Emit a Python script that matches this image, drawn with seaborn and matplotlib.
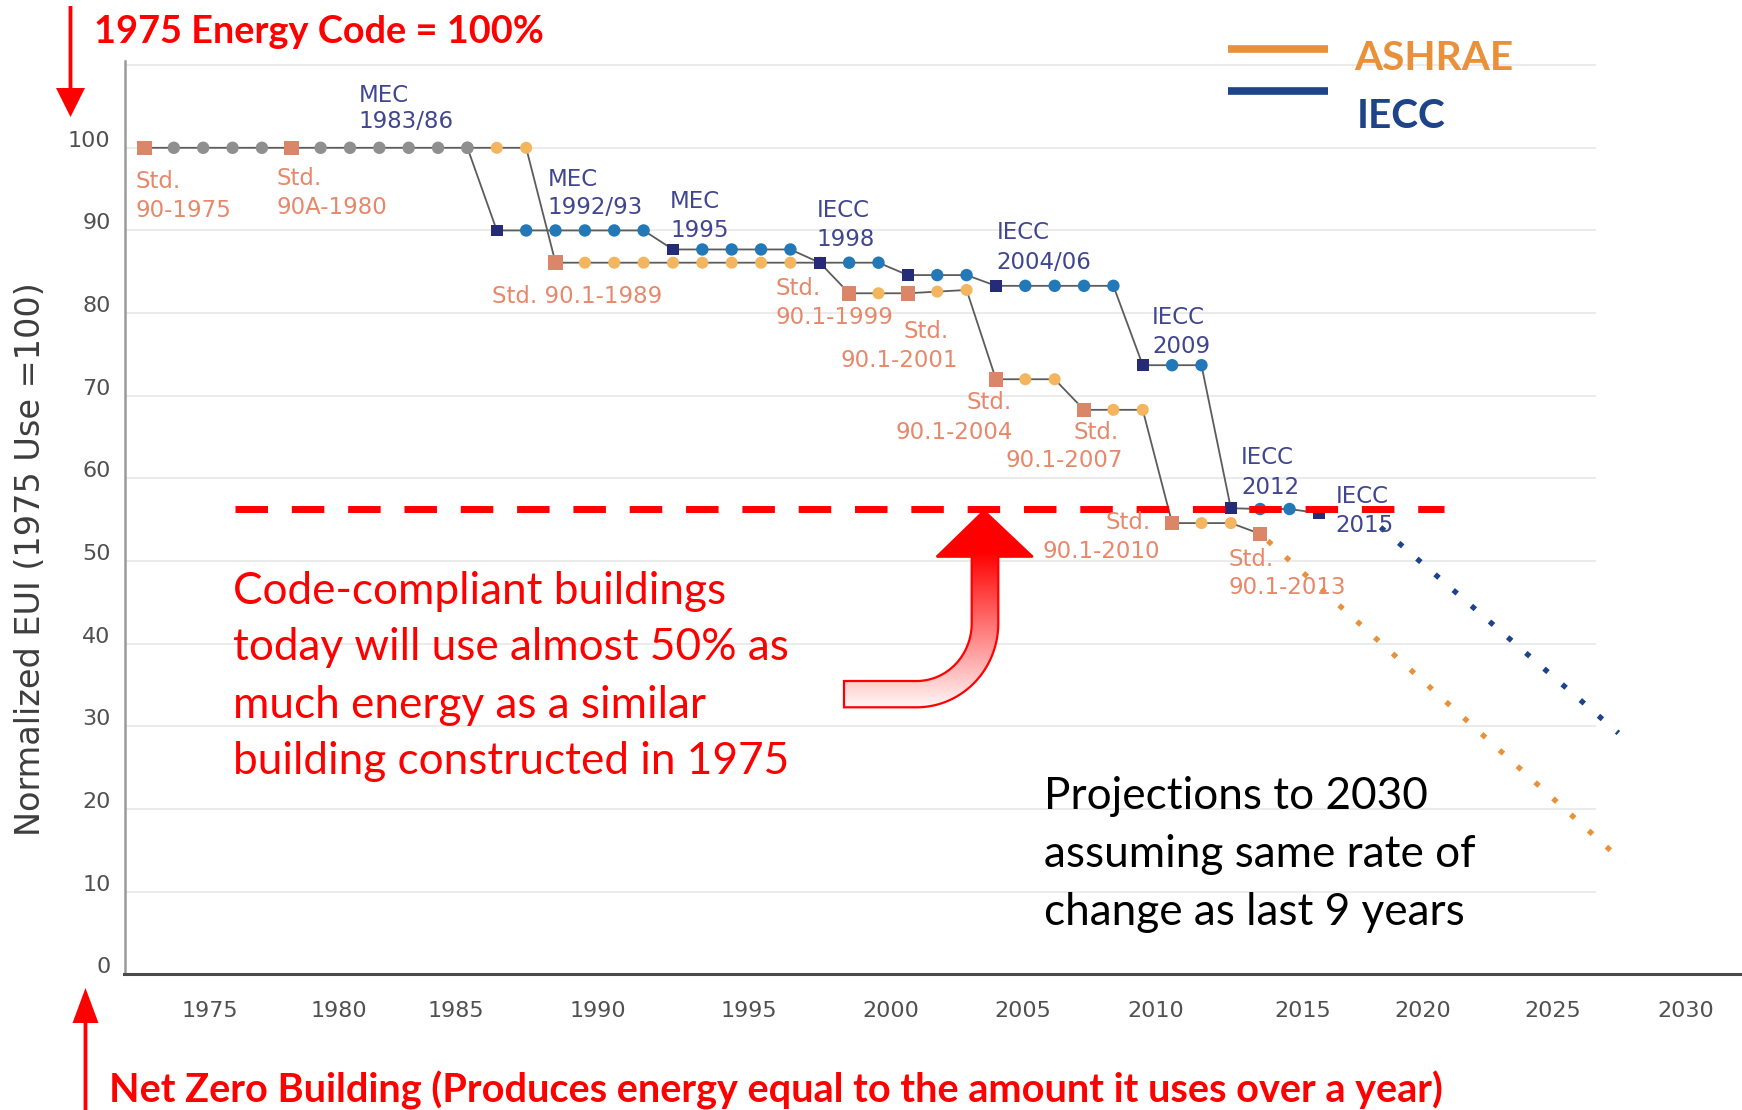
import matplotlib
matplotlib.use("Agg")
import matplotlib.pyplot as plt
import numpy as np
import pandas as pd
import seaborn as sns
from matplotlib.patches import FancyArrow, PathPatch
from matplotlib.path import Path
from matplotlib.transforms import ScaledTranslation

W, H, DPI = 1742, 1110, 100

# values (normalized EUI, 1975 = 100)
ASHRAE_YEARS = list(range(1975, 2014))
ASHRAE_EUI = [
    100, 100, 100, 100, 100, 100, 100, 100, 100, 100, 100, 100, 100, 100,  # 1975-1988
    86.1, 86.1, 86.1, 86.1, 86.1, 86.1, 86.1, 86.1, 86.1, 86.1,  # 1989-1998
    82.4, 82.4, 82.4, 82.6, 82.8,  # 1999-2003
    72.0, 72.0, 72.0,  # 2004-2006
    68.3, 68.3, 68.3,  # 2007-2009
    54.6, 54.6, 54.6,  # 2010-2012
    53.3,  # 2013
]
ASHRAE_STD_YEARS = [1975, 1980, 1989, 1999, 2001, 2004, 2007, 2010, 2013]

IECC_YEARS = list(range(1986, 2016))
IECC_EUI = [
    100,  # 1986, shared with ASHRAE
    90.0, 90.0, 90.0, 90.0, 90.0, 90.0,  # 1987-1992
    87.7, 87.7, 87.7, 87.7, 87.7,  # 1993-1997
    86.1, 86.1, 86.1,  # 1998-2000
    84.6, 84.6, 84.6,  # 2001-2003
    83.3, 83.3, 83.3, 83.3, 83.3,  # 2004-2008
    73.7, 73.7, 73.7,  # 2009-2011
    56.4, 56.3, 56.3,  # 2012-2014
    55.8,  # 2015
]
IECC_CODE_YEARS = [1987, 1993, 1998, 2001, 2004, 2009, 2012, 2015]
SHARED_LAST_YEAR = 1986

ASHRAE_PROJ_YEARS = [2013.26, 2025.4]
ASHRAE_PROJ_EUI = [52.45, 13.5]
IECC_PROJ_YEARS = [2017.1, 2025.2]
IECC_PROJ_EUI = [54.1, 29.2]

TARGET_EUI = 56.3
TARGET_YEARS = [1978.1, 2019.25]

Y_TICKS = [0, 10, 20, 30, 40, 50, 60, 70, 80, 90, 100]
GRID_VALUES = [10, 20, 30, 40, 50, 60, 70, 80, 90, 100, 110]
GRID_END = 2024.45
X_TICK_POS = [1977.23, 1981.62, 1985.59, 1990.44, 1995.58, 2000.43,
              2004.93, 2009.43, 2014.46, 2018.55, 2022.98, 2027.48]
X_TICK_LABELS = ["1975", "1980", "1985", "1990", "1995", "2000",
                 "2005", "2010", "2015", "2020", "2025", "2030"]

# label lines: text, left x, centre y (pixels), series
CHART_LABELS = [
    ("Std.", 135.5, 180.0, "ashrae"), ("90-1975", 135.5, 209.0, "ashrae"),
    ("Std.", 276.6, 176.6, "ashrae"), ("90A-1980", 276.6, 205.5, "ashrae"),
    ("MEC", 358.9, 93.3, "iecc"), ("1983/86", 358.9, 120.0, "iecc"),
    ("MEC", 547.7, 177.8, "iecc"), ("1992/93", 547.7, 205.5, "iecc"),
    ("MEC", 670.0, 200.0, "iecc"), ("1995", 670.0, 228.9, "iecc"),
    ("IECC", 816.6, 208.9, "iecc"), ("1998", 816.6, 237.8, "iecc"),
    ("IECC", 996.6, 231.0, "iecc"), ("2004/06", 996.6, 261.0, "iecc"),
    ("Std. 90.1-1989", 492.2, 294.4, "ashrae"),
    ("Std.", 775.5, 286.6, "ashrae"), ("90.1-1999", 775.5, 315.5, "ashrae"),
    ("Std.", 903.0, 330.0, "ashrae"), ("90.1-2001", 840.0, 358.9, "ashrae"),
    ("Std.", 966.0, 401.0, "ashrae"), ("90.1-2004", 895.0, 430.5, "ashrae"),
    ("Std.", 1073.0, 431.0, "ashrae"), ("90.1-2007", 1005.5, 459.0, "ashrae"),
    ("IECC", 1152.1, 315.5, "iecc"), ("2009", 1152.1, 344.4, "iecc"),
    ("IECC", 1241.0, 455.5, "iecc"), ("2012", 1241.0, 485.5, "iecc"),
    ("IECC", 1335.4, 494.4, "iecc"), ("2015", 1335.4, 523.3, "iecc"),
    ("Std.", 1105.5, 521.0, "ashrae"), ("90.1-2010", 1042.1, 550.0, "ashrae"),
    ("Std.", 1228.8, 557.7, "ashrae"), ("90.1-2013", 1228.8, 585.5, "ashrae"),
]

RED_NOTE = ["Code-compliant buildings", "today will use almost 50% as",
            "much energy as a similar", "building constructed in 1975"]
BLACK_NOTE = ["Projections to 2030", "assuming same rate of",
              "change as last 9 years"]

LINE = "#5c5c5c"
ORANGE = "#E8913A"
NAVY = "#1D4388"
RED = "#FF0000"
LABEL_COLORS = {"ashrae": "#E8886A", "iecc": "#40468F"}
MARKER_COLORS = {"shared": "#8f8f8f", "ashrae_std": "#DB8569", "ashrae": "#F3B55E",
                 "iecc_code": "#262B78", "iecc": "#2379B8"}
MARKER_SHAPES = {"shared": "o", "ashrae_std": "s", "ashrae": "o",
                 "iecc_code": "s", "iecc": "o"}
MARKER_SIZES = {"shared": 80, "ashrae_std": 110, "ashrae": 75,
                "iecc_code": 70, "iecc": 80}


def ashrae_kind(year):
    if year in ASHRAE_STD_YEARS:
        return "ashrae_std"
    return "shared" if year <= SHARED_LAST_YEAR else "ashrae"


def iecc_kind(year):
    if year <= SHARED_LAST_YEAR:
        return "shared"
    return "iecc_code" if year in IECC_CODE_YEARS else "iecc"


def fit_width(fig, texts, width):
    fig.canvas.draw()
    r = fig.canvas.get_renderer()
    cur = max(t.get_window_extent(r).width for t in texts)
    for t in texts:
        t.set_fontsize(t.get_fontsize() * width / cur)


sns.set_style("white")
plt.rcParams["font.family"] = ["DejaVu Sans"]

fig = plt.figure(figsize=(W / DPI, H / DPI), dpi=DPI)
ax_left, ax_bottom, ax_top = 124.5, 974.4, 61.0
ax = fig.add_axes([ax_left / W, 1 - ax_bottom / H, (W - ax_left) / W, (ax_bottom - ax_top) / H])

ax.hlines(GRID_VALUES, 1974.0, GRID_END, color="#e8e8e8", lw=1.2, zorder=0)

sns.lineplot(x=ASHRAE_YEARS, y=ASHRAE_EUI, ax=ax, color=LINE, lw=1.3, estimator=None, zorder=2)
sns.lineplot(x=IECC_YEARS, y=IECC_EUI, ax=ax, color=LINE, lw=1.3, estimator=None, zorder=2)

points = pd.concat([
    pd.DataFrame({"year": ASHRAE_YEARS, "eui": ASHRAE_EUI,
                  "kind": [ashrae_kind(y) for y in ASHRAE_YEARS]}),
    pd.DataFrame({"year": IECC_YEARS, "eui": IECC_EUI,
                  "kind": [iecc_kind(y) for y in IECC_YEARS]}),
], ignore_index=True)
sns.scatterplot(data=points, x="year", y="eui", hue="kind", style="kind", size="kind",
                palette=MARKER_COLORS, markers=MARKER_SHAPES, sizes=MARKER_SIZES,
                linewidth=0, legend=False, ax=ax, zorder=3)

ax.plot(ASHRAE_PROJ_YEARS, ASHRAE_PROJ_EUI, color=ORANGE, lw=3.8,
        linestyle=(0, (1, 3.55)), dash_capstyle="butt", zorder=2.5)
ax.plot(IECC_PROJ_YEARS, IECC_PROJ_EUI, color=NAVY, lw=3.8,
        linestyle=(0, (1, 3.55)), dash_capstyle="butt", zorder=2.5)

ax.plot(TARGET_YEARS, [TARGET_EUI, TARGET_EUI], color=RED, lw=5,
        linestyle=(0, (4.68, 3.43)), dash_capstyle="butt", zorder=4)

ax.set_xlim(1974.32, 2029.41)
ax.set_ylim(0, 110.5)
ax.set_yticks(Y_TICKS)
ax.set_xticks(X_TICK_POS)
ax.set_xticklabels(X_TICK_LABELS)
ax.set_xlabel("")
ax.set_ylabel("")
ax.tick_params(axis="both", length=0, labelsize=16, labelcolor="#505050")
ax.tick_params(axis="x", pad=19)
ax.tick_params(axis="y", pad=10)
for side in ["top", "right"]:
    ax.spines[side].set_visible(False)
ax.spines["left"].set_color("#9a9a9a")
ax.spines["left"].set_linewidth(1.8)
ax.spines["bottom"].set_color("#4a4a4a")
ax.spines["bottom"].set_linewidth(2.2)

# overlay in pixel coordinates for the annotations
ov = fig.add_axes([0, 0, 1, 1])
ov.set_xlim(0, W)
ov.set_ylim(H, 0)
ov.axis("off")
ov.set_zorder(5)

label_fs = 16.5
for text, x, y, series in CHART_LABELS:
    ov.text(x, y + 0.36 * label_fs * DPI / 72, text, color=LABEL_COLORS[series],
            fontsize=label_fs, ha="left", va="baseline")

ylab = ov.text(31, 559, "Normalized EUI (1975 Use =100)", rotation=90, ha="center",
               va="center", fontsize=22, color="#3d3d3d")

big = ["Lato", "DejaVu Sans"]
title = ov.text(94, 43.3, "1975 Energy Code = 100%", color=RED, fontsize=24,
                fontweight="bold", family=big, ha="left", va="baseline")
bottom = ov.text(109, 1102, "Net Zero Building (Produces energy equal to the amount it uses over a year)",
                 color=RED, fontsize=24, fontweight="bold", family=big, ha="left", va="baseline")
red_lines = [ov.text(232.5, 603.5 + 57 * i, line, color=RED, fontsize=28, family=big,
                     ha="left", va="baseline") for i, line in enumerate(RED_NOTE)]
black_lines = [ov.text(1044.3, 809 + 57.8 * i, line, color="black", fontsize=28, family=big,
                       ha="left", va="baseline") for i, line in enumerate(BLACK_NOTE)]
leg_a = ov.text(1354, 70, "ASHRAE", color=ORANGE, fontsize=28, fontweight="bold",
                family=big, ha="left", va="baseline")
leg_i = ov.text(1357, 128.3, "IECC", color=NAVY, fontsize=28, fontweight="bold",
                family=big, ha="left", va="baseline")

fit_width(fig, [title], 450)
fit_width(fig, [bottom], 1335)
fit_width(fig, red_lines, 556)
fit_width(fig, black_lines, 432)
fit_width(fig, [leg_a], 159)
leg_i.set_fontsize(leg_a.get_fontsize())
fig.canvas.draw()
ylab_h = ylab.get_window_extent(fig.canvas.get_renderer()).height
ylab.set_fontsize(ylab.get_fontsize() * 552 / ylab_h)

ov.plot([1228, 1328], [48.8, 48.8], color=ORANGE, lw=5.5, solid_capstyle="butt")
ov.plot([1228, 1328], [91.2, 91.2], color=NAVY, lw=5.5, solid_capstyle="butt")

ov.add_patch(FancyArrow(70.5, 6, 0, 111, width=3.8, head_width=29, head_length=29,
                        length_includes_head=True, color=RED, lw=0))
ov.add_patch(FancyArrow(85.5, 1110, 0, -122, width=3.8, head_width=26, head_length=35,
                        length_includes_head=True, color=RED, lw=0))

# curved gradient arrow pointing to the dashed line
cx, cy = 916.7, 623.3
t_out = np.linspace(0, np.pi / 2, 40)
t_in = np.linspace(np.pi / 2, 0, 40)
verts = [(984, 510.7), (1032.7, 556.7), (998.3, 556.7)]
verts += list(zip(cx + 81.6 * np.cos(t_out), cy + 84 * np.sin(t_out)))
verts += [(844, 707.3), (844, 681)]
verts += list(zip(cx + 55 * np.cos(t_in), cy + 57.7 * np.sin(t_in)))
verts += [(971.7, 556.7), (936.7, 556.7), (984, 510.7)]
codes = [Path.MOVETO] + [Path.LINETO] * (len(verts) - 2) + [Path.CLOSEPOLY]
arrow = PathPatch(Path(verts, codes), facecolor="none", edgecolor=RED, lw=1.6, zorder=7)
ov.add_patch(arrow)
ys = np.linspace(505, 712, 200)
t = np.clip((ys - 552) / (705 - 552), 0, 1)[:, None]
grad = np.stack([np.ones_like(t), 0.95 * t, 0.95 * t], axis=-1) * np.ones((1, 2, 1))
im = ov.imshow(grad, extent=(840, 1036, 712, 505), origin="upper", aspect="auto",
               interpolation="bilinear", zorder=6)
im.set_clip_path(arrow)
ov.set_xlim(0, W)
ov.set_ylim(H, 0)

shift = ScaledTranslation(0, 9 / DPI, fig.dpi_scale_trans)
for lbl in ax.get_yticklabels():
    lbl.set_transform(lbl.get_transform() + shift)

fig.savefig("out.png", dpi=DPI)
